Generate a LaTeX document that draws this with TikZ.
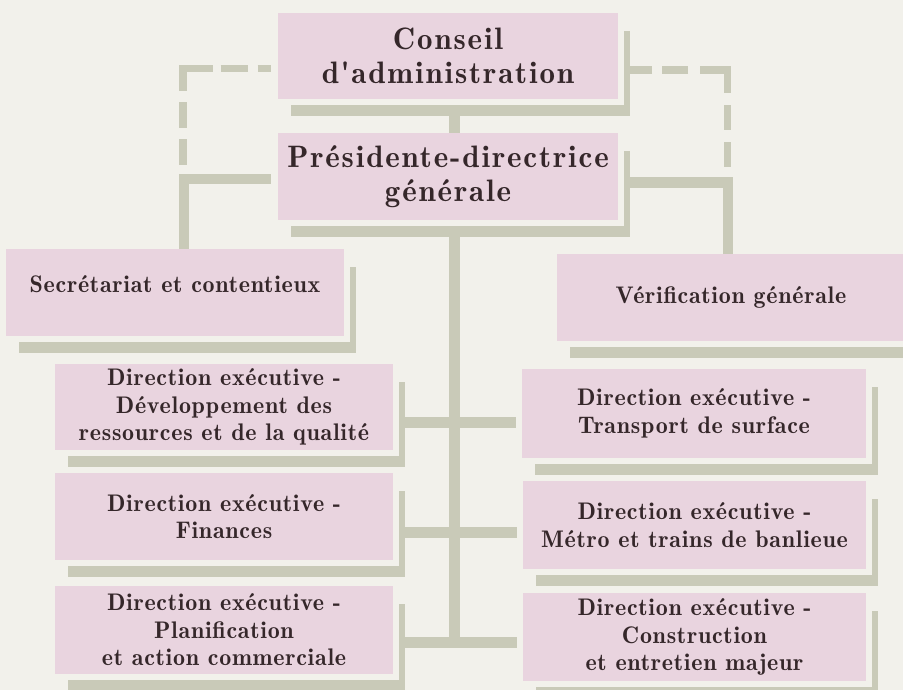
\documentclass[tikz,border=0pt]{standalone}
\usepackage{fontspec}
\newfontfamily\boxfont{lmromandemi10-regular.otf}[LetterSpace=3]
\newfontfamily\bigfont{lmromandemi10-regular.otf}[LetterSpace=6]
\usetikzlibrary{calc}
\definecolor{bgc}{HTML}{F2F1EB}
\definecolor{pinkc}{HTML}{E9D4DF}
\definecolor{shadc}{HTML}{C9CAB8}
\definecolor{textc}{HTML}{35272A}
\newcommand\dropshade[1]{%
  \fill[shad] ($(#1.north east)+(6,18)$) rectangle ($(#1.south east)+(12,17)$);
  \fill[shad] ($(#1.south west)+(13,6)$) rectangle ($(#1.south east)+(12,17)$);}
\begin{document}
\begin{tikzpicture}[x=1pt,y=-1pt,
  box/.style={fill=pinkc, draw=none, inner sep=0pt, text=textc, align=center, anchor=center},
  smallbox/.style={box, font=\boxfont\fontsize{24}{27.5}\selectfont},
  bigbox/.style={box, font=\bigfont\fontsize{31}{34}\selectfont},
  link/.style={draw=shadc, line width=10.5pt, line cap=butt, line join=miter},
  dlink/.style={draw=shadc, line width=7.5pt, line cap=butt, line join=miter},
  shad/.style={fill=shadc}]
\fill[bgc] (0,0) rectangle (903,690);
\useasboundingbox (0,0) rectangle (903,690);

% boxes
\node[bigbox, minimum width=340pt, minimum height=86pt] (conseil) at (448,56) {Conseil\\d'administration};
\node[bigbox, minimum width=340pt, minimum height=87pt] (pdg) at (448,176.5) {Présidente-directrice\\générale};
\node[smallbox, minimum width=338pt, minimum height=87pt, text height=18pt, text depth=18pt] (sec) at (175,292.5) {Secrétariat et contentieux};
\node[smallbox, minimum width=348pt, minimum height=87pt] (verif) at (731,297.5) {Vérification générale};
\node[smallbox, minimum width=338pt, minimum height=86pt] (dev) at (224,407) {Direction exécutive -\\Développement des\\ressources et de la qualité};
\node[smallbox, minimum width=338pt, minimum height=87pt] (fin) at (224,516.5) {Direction exécutive -\\Finances};
\node[smallbox, minimum width=338pt, minimum height=88pt] (plan) at (224,630) {Direction exécutive -\\Planification\\et action commerciale};
\node[smallbox, minimum width=344pt, minimum height=89pt] (trans) at (694,413.5) {Direction exécutive -\\Transport de surface};
\node[smallbox, minimum width=343pt, minimum height=88pt] (metro) at (694.5,525) {Direction exécutive -\\Métro et trains de banlieue};
\node[smallbox, minimum width=343pt, minimum height=88pt] (constr) at (694.5,637) {Direction exécutive -\\Construction\\et entretien majeur};

% shadows
\foreach \n in {conseil,pdg,sec,verif,dev,fin,plan,trans,metro,constr}{\dropshade{\n}}

% connectors
\coordinate (stemtop) at ($(pdg.south)+(6.5,17)$);
\coordinate (stembot) at ($(plan.east)+(6,18)$);
\draw[link] ($(conseil.south)+(6.5,17)$) -- ($(pdg.north)+(6.5,0)$);
\draw[link] (stemtop) -- (stemtop |- stembot);
\draw[link] ($(dev.east)+(6,15.5)$) -- ($(trans.west)+(-6,9)$);
\draw[link] ($(fin.east)+(6,16)$) -- ($(metro.west)+(-6,7.5)$);
\draw[link] ($(plan.east)+(6,12.5)$) -- ($(constr.west)+(-6,5.5)$);
\draw[link] ($(pdg.west)+(-7,2.5)$) -| ($(sec.north)+(9,0)$);
\draw[link] ($(pdg.east)+(12,6)$) -| ($(verif.north)+(-3,0)$);

% dashed links
\coordinate (ld) at (183,165);
\coordinate (rd) at (727.5,167);
\draw[dlink, dash pattern=on 26pt off 11pt on 26pt off 11pt on 52pt off 8pt on 27pt off 10pt on 14pt off 20pt]
  (ld) |- ($(conseil.west)+(-7,12.5)$);
\draw[dlink, dash pattern=on 25pt off 12pt on 25pt off 12pt on 50.5pt off 12pt on 26pt off 10pt on 22pt off 20pt]
  (rd) |- ($(conseil.east)+(12,14)$);
\end{tikzpicture}
\end{document}
